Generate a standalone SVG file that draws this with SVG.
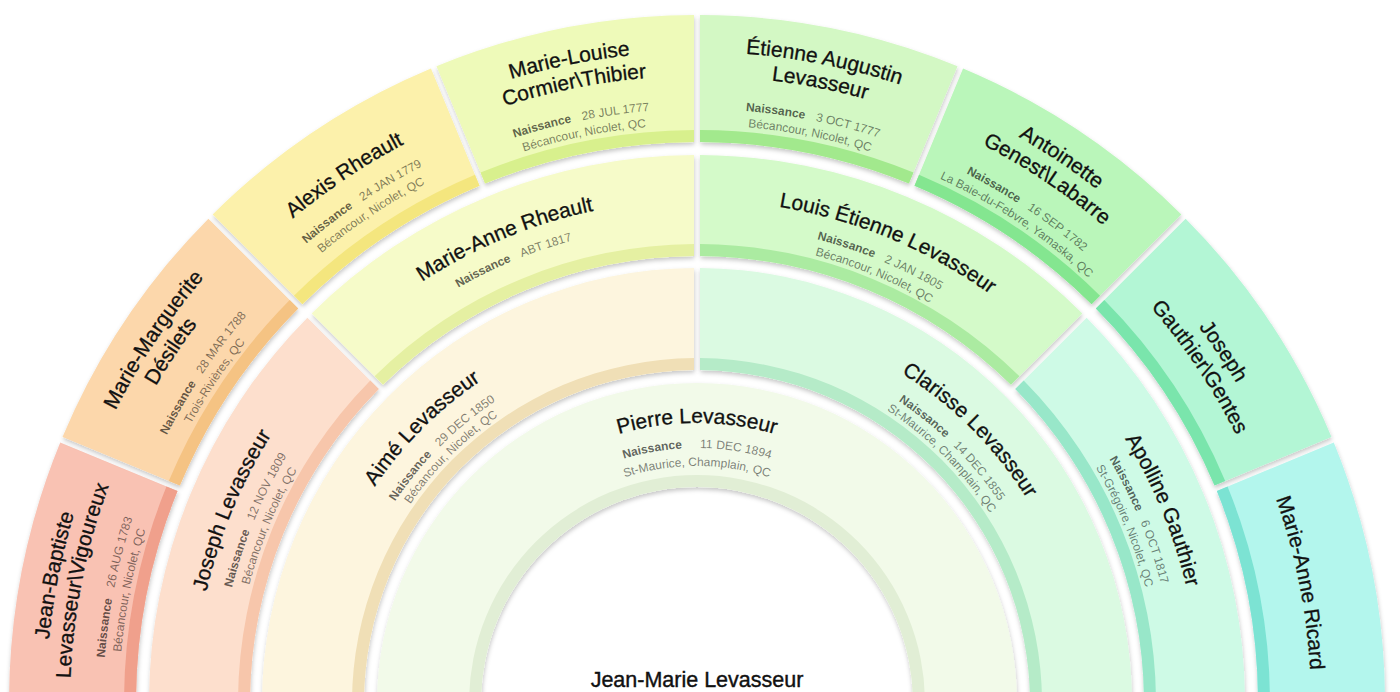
<svg xmlns="http://www.w3.org/2000/svg" xmlns:xlink="http://www.w3.org/1999/xlink" width="1400" height="692" viewBox="0 0 1400 692">
<style>
text { font-family: "Liberation Sans", Arial, Helvetica, sans-serif; text-anchor: middle; }
.nm { font-size: 21px; fill: #111111; stroke: #111111; stroke-width: 0.3; }
.dl { font-size: 12px; }
.lb { font-weight: bold; fill: #000; fill-opacity: 0.62; }
.dt { fill: #000; fill-opacity: 0.5; }
.pl { font-size: 12px; fill: #000; fill-opacity: 0.5; }
.root { font-size: 21.5px; fill: #111111; stroke: #111111; stroke-width: 0.4; }
.sh { filter: url(#sh); }
</style>
<defs>
<filter id="sh" x="-10%" y="-10%" width="120%" height="130%">
<feDropShadow dx="0.5" dy="2.5" stdDeviation="2.2" flood-color="#000" flood-opacity="0.22"/>
</filter>
<path id="r651" d="M46,703 A651,651 0 0 1 697,52 A651,651 0 0 1 1348,703"/>
<path id="r631" d="M66,703 A631,631 0 0 1 697,72 A631,631 0 0 1 1328,703"/>
<path id="r627" d="M70,703 A627,627 0 0 1 697,76 A627,627 0 0 1 1324,703"/>
<path id="r614" d="M83,703 A614,614 0 0 1 697,89 A614,614 0 0 1 1311,703"/>
<path id="r603" d="M94,703 A603,603 0 0 1 697,100 A603,603 0 0 1 1300,703"/>
<path id="r602" d="M95,703 A602,602 0 0 1 697,101 A602,602 0 0 1 1299,703"/>
<path id="r594" d="M103,703 A594,594 0 0 1 697,109 A594,594 0 0 1 1291,703"/>
<path id="r586" d="M111,703 A586,586 0 0 1 697,117 A586,586 0 0 1 1283,703"/>
<path id="r578" d="M119,703 A578,578 0 0 1 697,125 A578,578 0 0 1 1275,703"/>
<path id="r503" d="M194,703 A503,503 0 0 1 697,200 A503,503 0 0 1 1200,703"/>
<path id="r479" d="M218,703 A479,479 0 0 1 697,224 A479,479 0 0 1 1176,703"/>
<path id="r463" d="M234,703 A463,463 0 0 1 697,240 A463,463 0 0 1 1160,703"/>
<path id="r388" d="M309,703 A388,388 0 0 1 697,315 A388,388 0 0 1 1085,703"/>
<path id="r363" d="M334,703 A363,363 0 0 1 697,340 A363,363 0 0 1 1060,703"/>
<path id="r349" d="M348,703 A349,349 0 0 1 697,354 A349,349 0 0 1 1046,703"/>
<path id="r280" d="M417,703 A280,280 0 0 1 697,423 A280,280 0 0 1 977,703"/>
<path id="r255" d="M442,703 A255,255 0 0 1 697,448 A255,255 0 0 1 952,703"/>
<path id="r237" d="M460,703 A237,237 0 0 1 697,466 A237,237 0 0 1 934,703"/>
</defs>
<rect width="1400" height="692" fill="#ffffff"/>

<g id="connectors"></g>

<!-- Ring 4 -->
<g id="jean-baptiste-levasseur-vigoureux">
<g class="sh">
<path fill="#f9c2b3" d="M9,703 A688,688 0 0 1 60.22,442.48 L177.55,491.08 A561,561 0 0 0 136,703 Z"/>
<path fill="#f0a08c" d="M124,703 A573,573 0 0 1 166.47,486.49 L177.55,491.08 A561,561 0 0 0 136,703 Z"/>
</g>
<text class="nm"><textPath href="#r651" startOffset="6.25%">Jean-Baptiste</textPath></text>
<text class="nm"><textPath href="#r627" startOffset="6.25%">Levasseur\Vigoureux</textPath></text>
<text class="dl"><textPath href="#r594" startOffset="6.25%"><tspan class="lb">Naissance</tspan><tspan class="dt" dx="11">26 AUG 1783</tspan></textPath></text>
<text class="pl"><textPath href="#r578" startOffset="6.25%">Bécancour, Nicolet, QC</textPath></text>
</g>

<g id="marie-marguerite-desilets">
<g class="sh">
<path fill="#fcd7ab" d="M62.52,436.94 A688,688 0 0 1 208.39,218.63 L298.19,308.43 A561,561 0 0 0 179.85,485.54 Z"/>
<path fill="#f5c383" d="M168.77,480.95 A573,573 0 0 1 289.71,299.95 L298.19,308.43 A561,561 0 0 0 179.85,485.54 Z"/>
</g>
<text class="nm"><textPath href="#r651" startOffset="18.75%">Marie-Marguerite</textPath></text>
<text class="nm"><textPath href="#r627" startOffset="18.75%">Désilets</textPath></text>
<text class="dl"><textPath href="#r594" startOffset="18.75%"><tspan class="lb">Naissance</tspan><tspan class="dt" dx="11">28 MAR 1788</tspan></textPath></text>
<text class="pl"><textPath href="#r578" startOffset="18.75%">Trois-Rivières, QC</textPath></text>
</g>

<g id="alexis-rheault">
<g class="sh">
<path fill="#fcf1ab" d="M212.63,214.39 A688,688 0 0 1 430.94,68.52 L479.54,185.85 A561,561 0 0 0 302.43,304.19 Z"/>
<path fill="#f4e67e" d="M293.95,295.71 A573,573 0 0 1 474.95,174.77 L479.54,185.85 A561,561 0 0 0 302.43,304.19 Z"/>
</g>
<text class="nm"><textPath href="#r631" startOffset="31.25%">Alexis Rheault</textPath></text>
<text class="dl"><textPath href="#r603" startOffset="31.25%"><tspan class="lb">Naissance</tspan><tspan class="dt" dx="11">24 JAN 1779</tspan></textPath></text>
<text class="pl"><textPath href="#r586" startOffset="31.25%">Bécancour, Nicolet, QC</textPath></text>
</g>

<g id="marie-louise-cormier-thibier">
<g class="sh">
<path fill="#eefab9" d="M436.48,66.22 A688,688 0 0 1 694,15 L694,142 A561,561 0 0 0 485.08,183.55 Z"/>
<path fill="#d8f08d" d="M480.49,172.47 A573,573 0 0 1 694,130 L694,142 A561,561 0 0 0 485.08,183.55 Z"/>
</g>
<text class="nm"><textPath href="#r651" startOffset="43.75%">Marie-Louise</textPath></text>
<text class="nm"><textPath href="#r627" startOffset="43.75%">Cormier\Thibier</textPath></text>
<text class="dl"><textPath href="#r594" startOffset="43.75%"><tspan class="lb">Naissance</tspan><tspan class="dt" dx="11">28 JUL 1777</tspan></textPath></text>
<text class="pl"><textPath href="#r578" startOffset="43.75%">Bécancour, Nicolet, QC</textPath></text>
</g>

<g id="etienne-augustin-levasseur">
<g class="sh">
<path fill="#d3f8c4" d="M700,15 A688,688 0 0 1 957.52,66.22 L908.92,183.55 A561,561 0 0 0 700,142 Z"/>
<path fill="#a2e98d" d="M700,130 A573,573 0 0 1 913.51,172.47 L908.92,183.55 A561,561 0 0 0 700,142 Z"/>
</g>
<text class="nm"><textPath href="#r651" startOffset="56.25%">Étienne Augustin</textPath></text>
<text class="nm"><textPath href="#r627" startOffset="56.25%">Levasseur</textPath></text>
<text class="dl"><textPath href="#r594" startOffset="56.25%"><tspan class="lb">Naissance</tspan><tspan class="dt" dx="11">3 OCT 1777</tspan></textPath></text>
<text class="pl"><textPath href="#r578" startOffset="56.25%">Bécancour, Nicolet, QC</textPath></text>
</g>

<g id="antoinette-genest-labarre">
<g class="sh">
<path fill="#baf6ba" d="M963.06,68.52 A688,688 0 0 1 1181.37,214.39 L1091.57,304.19 A561,561 0 0 0 914.46,185.85 Z"/>
<path fill="#84e690" d="M919.05,174.77 A573,573 0 0 1 1100.05,295.71 L1091.57,304.19 A561,561 0 0 0 914.46,185.85 Z"/>
</g>
<text class="nm"><textPath href="#r651" startOffset="68.75%">Antoinette</textPath></text>
<text class="nm"><textPath href="#r627" startOffset="68.75%">Genest\Labarre</textPath></text>
<text class="dl"><textPath href="#r594" startOffset="68.75%"><tspan class="lb">Naissance</tspan><tspan class="dt" dx="11">16 SEP 1782</tspan></textPath></text>
<text class="pl"><textPath href="#r578" startOffset="68.75%">La Baie-du-Febvre, Yamaska, QC</textPath></text>
</g>

<g id="joseph-gauthier-gentes">
<g class="sh">
<path fill="#b3f6d5" d="M1185.61,218.63 A688,688 0 0 1 1331.48,436.94 L1214.55,485.54 A561,561 0 0 0 1095.81,308.43 Z"/>
<path fill="#7ae5ac" d="M1104.29,299.95 A573,573 0 0 1 1225.23,480.95 L1214.55,485.54 A561,561 0 0 0 1095.81,308.43 Z"/>
</g>
<text class="nm"><textPath href="#r627" startOffset="81.25%">Joseph</textPath></text>
<text class="nm"><textPath href="#r602" startOffset="81.25%">Gauthier\Gentes</textPath></text>
</g>

<g id="marie-anne-ricard">
<g class="sh">
<path fill="#b3f6ed" d="M1333.78,442.48 A688,688 0 0 1 1385,703 L1258,703 A561,561 0 0 0 1216.85,491.08 Z"/>
<path fill="#7be3d3" d="M1227.53,486.49 A573,573 0 0 1 1270,703 L1258,703 A561,561 0 0 0 1216.85,491.08 Z"/>
</g>
<text class="nm"><textPath href="#r614" startOffset="93.75%">Marie-Anne Ricard</textPath></text>
</g>

<!-- Ring 3 -->
<g id="joseph-levasseur">
<g class="sh">
<path fill="#fddfcd" d="M149,703 A548,548 0 0 1 307.39,317.63 L378.80,389.04 A447,447 0 0 0 250,703 Z"/>
<path fill="#f7c6ab" d="M238,703 A459,459 0 0 1 370.32,380.56 L378.80,389.04 A447,447 0 0 0 250,703 Z"/>
</g>
<text class="nm"><textPath href="#r503" startOffset="12.5%">Joseph Levasseur</textPath></text>
<text class="dl"><textPath href="#r479" startOffset="12.5%"><tspan class="lb">Naissance</tspan><tspan class="dt" dx="11">12 NOV 1809</tspan></textPath></text>
<text class="pl"><textPath href="#r463" startOffset="12.5%">Bécancour, Nicolet, QC</textPath></text>
</g>

<g id="marie-anne-rheault">
<g class="sh">
<path fill="#f6fbc9" d="M311.63,313.39 A548,548 0 0 1 694,155 L694,256 A447,447 0 0 0 383.04,384.80 Z"/>
<path fill="#e5f0a2" d="M374.56,376.32 A459,459 0 0 1 694,244 L694,256 A447,447 0 0 0 383.04,384.80 Z"/>
</g>
<text class="nm"><textPath href="#r503" startOffset="37.5%">Marie-Anne Rheault</textPath></text>
<text class="dl"><textPath href="#r479" startOffset="37.5%"><tspan class="lb">Naissance</tspan><tspan class="dt" dx="11">ABT 1817</tspan></textPath></text>
</g>

<g id="louis-etienne-levasseur">
<g class="sh">
<path fill="#d4fac9" d="M700,155 A548,548 0 0 1 1082.37,313.39 L1010.96,384.80 A447,447 0 0 0 700,256 Z"/>
<path fill="#abeba1" d="M700,244 A459,459 0 0 1 1019.44,376.32 L1010.96,384.80 A447,447 0 0 0 700,256 Z"/>
</g>
<text class="nm"><textPath href="#r503" startOffset="62.5%">Louis Étienne Levasseur</textPath></text>
<text class="dl"><textPath href="#r479" startOffset="62.5%"><tspan class="lb">Naissance</tspan><tspan class="dt" dx="11">2 JAN 1805</tspan></textPath></text>
<text class="pl"><textPath href="#r463" startOffset="62.5%">Bécancour, Nicolet, QC</textPath></text>
</g>

<g id="apolline-gauthier">
<g class="sh">
<path fill="#cefae6" d="M1086.61,317.63 A548,548 0 0 1 1245,703 L1144,703 A447,447 0 0 0 1015.20,389.04 Z"/>
<path fill="#98e7c9" d="M1023.68,380.56 A459,459 0 0 1 1156,703 L1144,703 A447,447 0 0 0 1015.20,389.04 Z"/>
</g>
<text class="nm"><textPath href="#r503" startOffset="87.5%">Apolline Gauthier</textPath></text>
<text class="dl"><textPath href="#r479" startOffset="87.5%"><tspan class="lb">Naissance</tspan><tspan class="dt" dx="11">6 OCT 1817</tspan></textPath></text>
<text class="pl"><textPath href="#r463" startOffset="87.5%">St-Grégoire, Nicolet, QC</textPath></text>
</g>

<!-- Ring 2 -->
<g id="aime-levasseur">
<g class="sh">
<path fill="#fdf5de" d="M262,703 A435,435 0 0 1 694,268 L694,370 A333,333 0 0 0 364,703 Z"/>
<path fill="#f0dfb6" d="M352,703 A345,345 0 0 1 694,358 L694,370 A333,333 0 0 0 364,703 Z"/>
</g>
<text class="nm"><textPath href="#r388" startOffset="25%">Aimé Levasseur</textPath></text>
<text class="dl"><textPath href="#r363" startOffset="25%"><tspan class="lb">Naissance</tspan><tspan class="dt" dx="11">29 DEC 1850</tspan></textPath></text>
<text class="pl"><textPath href="#r349" startOffset="25%">Bécancour, Nicolet, QC</textPath></text>
</g>

<g id="clarisse-levasseur">
<g class="sh">
<path fill="#dbfae2" d="M700,268 A435,435 0 0 1 1132,703 L1030,703 A333,333 0 0 0 700,370 Z"/>
<path fill="#b5ebc8" d="M700,358 A345,345 0 0 1 1042,703 L1030,703 A333,333 0 0 0 700,370 Z"/>
</g>
<text class="nm"><textPath href="#r388" startOffset="75%">Clarisse Levasseur</textPath></text>
<text class="dl"><textPath href="#r363" startOffset="75%"><tspan class="lb">Naissance</tspan><tspan class="dt" dx="11">14 DEC 1855</tspan></textPath></text>
<text class="pl"><textPath href="#r349" startOffset="75%">St-Maurice, Champlain, QC</textPath></text>
</g>

<!-- Ring 1 -->
<g id="pierre-levasseur">
<g class="sh">
<path fill="#f2fae9" d="M377,703 A320,320 0 0 1 1017,703 L913,703 A216,216 0 0 0 481,703 Z"/>
<path fill="#e1eed5" d="M469,703 A228,228 0 0 1 925,703 L913,703 A216,216 0 0 0 481,703 Z"/>
</g>
<text class="nm"><textPath href="#r280" startOffset="50%">Pierre Levasseur</textPath></text>
<text class="dl"><textPath href="#r255" startOffset="50%"><tspan class="lb">Naissance</tspan><tspan class="dt" dx="18">11 DEC 1894</tspan></textPath></text>
<text class="pl"><textPath href="#r237" startOffset="50%">St-Maurice, Champlain, QC</textPath></text>
</g>

<!-- Root -->
<g id="jean-marie-levasseur">
<text class="root" x="697" y="687">Jean-Marie Levasseur</text>
</g>
</svg>
